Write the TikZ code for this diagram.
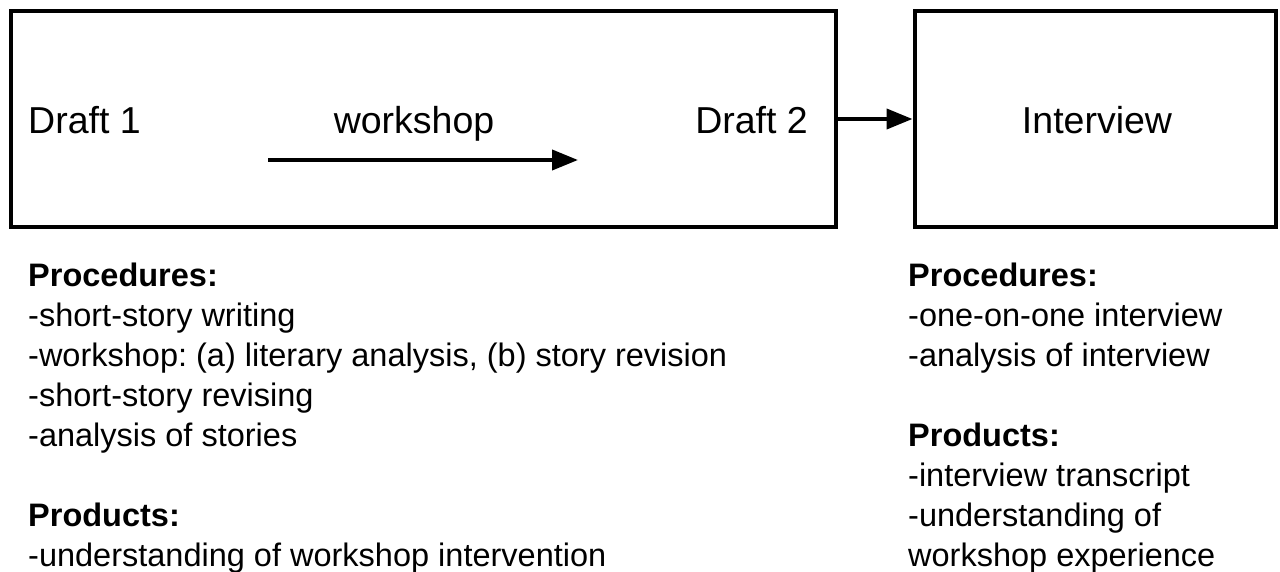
\documentclass[tikz,border=0pt]{standalone}
\usepackage{fontspec}
\setmainfont{Liberation Sans}
\usetikzlibrary{arrows.meta}
\frenchspacing

\tikzset{
  stagebox/.style={draw, line width=4pt, inner sep=0pt},
  flow/.style={line width=4pt, -{Triangle[length=26pt,width=20pt]}},
  biglabel/.style={inner sep=0pt, font=\fontsize{37.5}{45}\selectfont},
  notes/.style={inner sep=0pt, align=left, anchor=base west,
    font=\fontsize{32.5}{40}\selectfont}
}

\begin{document}
\begin{tikzpicture}[x=1pt,y=-1pt]
		\useasboundingbox (0,0) rectangle (1280,572);

		% Draw the two stage boxes
		\node[stagebox, minimum width=825pt, minimum height=216.5pt] (writing) at (423,119) {};
		\node[stagebox, minimum width=361.5pt, minimum height=216.5pt] (interview) at (1095.25,119) {};

		% Add labels
		\node[biglabel, anchor=base west] (draft1) at (28,134) {Draft 1};
		\node[biglabel, anchor=base] (wslabel) at (414,134) {workshop};
		\node[biglabel, anchor=base east] (draft2) at (808,134) {Draft 2};
		\node[biglabel, anchor=base] (intlabel) at (1097,134) {Interview};

		% Draw arrows
		\coordinate (wsstart) at (268,160);
		\coordinate (wsend) at (578,160);
		\draw[flow] (wsstart) -- (wsend);
		\draw[flow] (writing.east |- 0,119) -- (interview.west |- 0,119);

		% Notes under the boxes (anchored at the last line)
		\node[notes] (leftnotes) at (28,566) {\textbf{Procedures:}\\
			-short-story writing\\
			-workshop: (a) literary analysis, (b) story revision\\
			-short-story revising\\
			-analysis of stories\\[40pt]
			\textbf{Products:}\\
			-understanding of workshop intervention};
		\node[notes] (rightnotes) at (908,566) {\textbf{Procedures:}\\
			-one-on-one interview\\
			-analysis of interview\\[40pt]
			\textbf{Products:}\\
			-interview transcript\\
			-understanding of\\
			workshop experience};
	\end{tikzpicture}
\end{document}
